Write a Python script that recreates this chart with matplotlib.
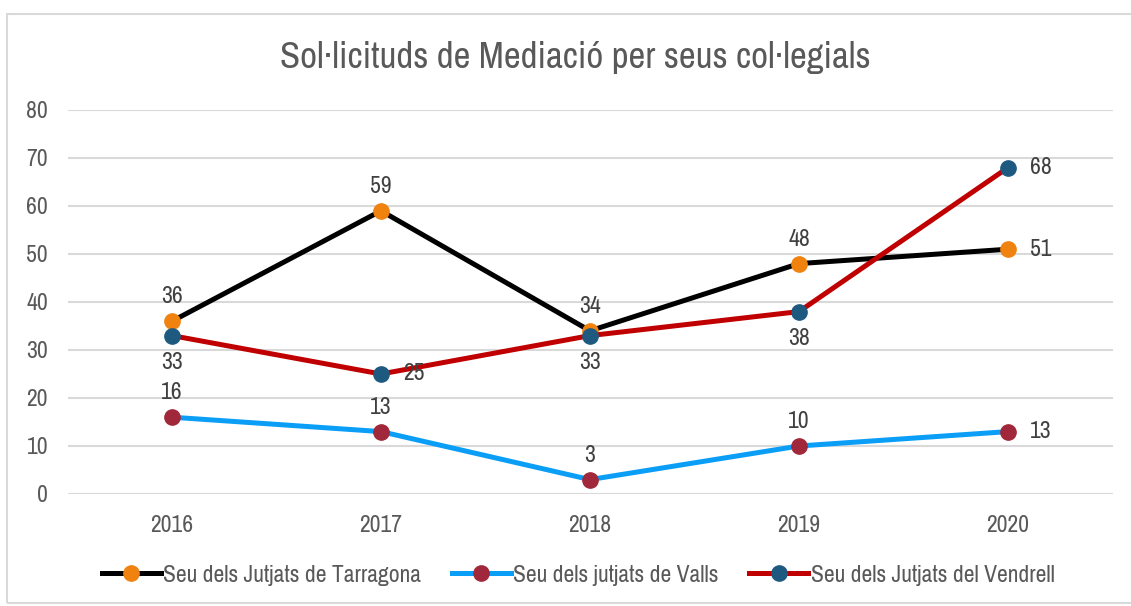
import matplotlib
matplotlib.use("Agg")
import matplotlib.pyplot as plt
from matplotlib.patches import Rectangle
from matplotlib.lines import Line2D

years = ["2016", "2017", "2018", "2019", "2020"]
tarragona = [36, 59, 34, 48, 51]
valls = [16, 13, 3, 10, 13]
vendrell = [33, 25, 33, 38, 68]
series_names = ["Seu dels Jutjats de Tarragona", "Seu dels jutjats de Valls", "Seu dels Jutjats del Vendrell"]
title = "Sol·licituds de Mediació per seus col·legials"

plt.rcParams['font.family'] = ['Archivo Narrow', 'Liberation Sans', 'DejaVu Sans']
txt = "#595959"

fig = plt.figure(figsize=(11.31, 6.06), dpi=100)
fig.patches.append(Rectangle((7/1131, 0.005), 1.2, (606-14)/606 - 0.005, transform=fig.transFigure,
                             fill=False, edgecolor="#D9D9D9", linewidth=1.5))
ax = fig.add_axes([67.5/1131, 112/606, 1045/1131, 384/606])

x = list(range(len(years)))
styles = [
    (tarragona, "#000000", "#F0820F"),
    (valls, "#0A9EF7", "#A0283A"),
    (vendrell, "#C00000", "#1E5A80"),
]
for (vals, lc, mc), name in zip(styles, series_names):
    ax.plot(x, vals, color=lc, lw=3.6, marker='o', markersize=11, markerfacecolor=mc,
            markeredgecolor=mc, label=name, zorder=3, solid_capstyle='round')

# label positions: 'a' above, 'b' below, 'r' right
pos = [
    (tarragona, ['a', 'a', 'a', 'a', 'r']),
    (valls, ['a', 'a', 'a', 'a', 'r']),
    (vendrell, ['b', 'r', 'b', 'b', 'r']),
]
for vals, ps in pos:
    for i, (v, p) in enumerate(zip(vals, ps)):
        if p == 'a':
            off, ha, va = (0, 14), 'center', 'bottom'
        elif p == 'b':
            off, ha, va = (0, -16), 'center', 'top'
        else:
            off, ha, va = (22, 0), 'left', 'center'
        ax.annotate(str(v), (i, v), xytext=off, textcoords='offset pixels',
                    ha=ha, va=va, fontsize=17, color="#404040", zorder=4)

ax.set_xlim(-0.5, len(years) - 0.5)
ax.set_ylim(0, 80)
ax.set_yticks(range(0, 81, 10))
ax.set_xticks(x)
ax.set_xticklabels(years)
ax.grid(axis='y', color="#D9D9D9", lw=1.5)
ax.set_axisbelow(True)
for s in ax.spines.values():
    s.set_visible(False)
ax.tick_params(axis='both', length=0, labelsize=17, colors=txt)
ax.tick_params(axis='y', pad=14)
ax.tick_params(axis='x', pad=15)

fig.text(575/1131, 1 - 58/606, title, ha='center', va='center', fontsize=26.5, color=txt)

handles = [Line2D([0], [0], color=lc, lw=3.6, marker='o', markersize=11, markerfacecolor=mc,
                  markeredgecolor=mc) for _, lc, mc in styles]
fig.legend(handles, series_names, loc='center', bbox_to_anchor=(578/1131, 1 - 575/606), ncol=3,
           frameon=False, fontsize=17, labelcolor=txt, handlelength=2.5, handletextpad=0.1,
           columnspacing=1.3)

fig.savefig("out.png", dpi=100)
